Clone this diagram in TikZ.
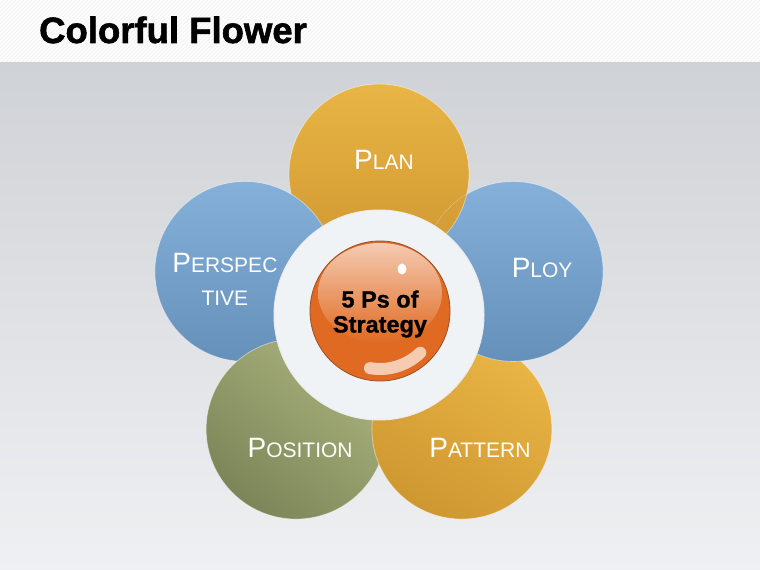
\documentclass[tikz,border=0pt]{standalone}
\usepackage{fontspec}
\setmainfont{Liberation Sans}
\newfontface\heavyface{Liberation Sans Bold}[FakeBold=1.6]
\newfontface\ballface{Liberation Sans Bold}[FakeBold=1]
\usetikzlibrary{calc}

\definecolor{goldTop}{HTML}{E9B545}
\definecolor{goldBot}{HTML}{CF9731}
\definecolor{blueTop}{HTML}{85B0DA}
\definecolor{blueBot}{HTML}{6590BA}
\definecolor{oliveTop}{HTML}{AAB37D}
\definecolor{oliveBot}{HTML}{7B8558}
\definecolor{ballOrange}{HTML}{E06A22}
\definecolor{ballLight}{HTML}{F5CBB2}
\definecolor{ringWhite}{HTML}{F0F3F6}
\definecolor{bgTop}{HTML}{CFD2D6}
\definecolor{bgBot}{HTML}{EFF0F2}

% small caps the way the slide sets them
\newcommand{\capword}[2]{{\fontsize{28}{30}\selectfont #1}{\fontsize{21}{24}\selectfont #2}}

\tikzset{
  petal/.style={circle, minimum size=180pt, inner sep=0pt,
    draw=white, draw opacity=0.45, line width=0.8pt},
  goldpetal/.style={petal, top color=goldTop, bottom color=goldBot},
  bluepetal/.style={petal, top color=blueTop, bottom color=blueBot},
  olivepetal/.style={petal, top color=oliveTop, bottom color=oliveBot, shading angle=-40},
  lbl/.style={text=white, inner sep=0pt, align=center},
}

\begin{document}
\begin{tikzpicture}[x=1pt, y=1pt]
  \useasboundingbox (0,0) rectangle (760,570);
  % Background
  \shade[top color=bgTop, bottom color=bgBot] (0,0) rectangle (760,508);
  \fill[white] (0,508) rectangle (760,570);
  \begin{scope}
    \clip (0,508) rectangle (760,570);
    \foreach \i in {0,4,...,840} {
      \draw[gray!9, line width=1.2pt] (\i-70,508) -- (\i,578);
    }
  \end{scope}
  % Title
  \node[anchor=base west, inner sep=0pt, font=\fontsize{36.5}{40}\heavyface]
    (title) at (39,527) {Colorful Flower};
  % Petals
  \coordinate (C) at (379,255);
  \node[goldpetal] (plan) at ($(C)+(90:141)$) {};
  \node[bluepetal] (perspective) at ($(C)+(162:141)$) {};
  \node[olivepetal] (position) at ($(C)+(234:141)$) {};
  \node[goldpetal, shading angle=-30] (pattern) at ($(C)+(306:141)$) {};
  \node[bluepetal] (ploy) at ($(C)+(18:141)$) {};
  % Plan lies over Ploy
  \begin{scope}
    \clip (ploy.center) circle (90);
    \path[goldpetal] (plan.center) circle (90);
  \end{scope}
  % Hub ring and ball
  \node[circle, minimum size=210pt, inner sep=0pt, fill=ringWhite,
    draw=gray!15, line width=1pt] (hub) at (C) {};
  \node[circle, minimum size=140pt, inner sep=0pt, fill=ballOrange,
    draw={rgb,255:red,150;green,80;blue,40}, line width=0.8pt] (ball) at (380,259) {};
  \shade[top color=ballLight, bottom color=ballOrange]
    ($(ball)+(0,18)$) ellipse [x radius=62, y radius=50];
  \fill[white] ($(ball)+(22,42)$) ellipse [x radius=4.5, y radius=5.5];
  \draw[ballLight, line width=12pt, line cap=round]
    ($(ball)+(-100:58)$) arc[start angle=-100, end angle=-46, radius=58];
  \node[font=\fontsize{23.5}{25}\ballface, align=center, inner sep=0pt]
    (strategy) at (380,256) {5 Ps of\\Strategy};
  % Petal labels
  \node[lbl] (planT) at ($(plan)+(5,14)$) {\capword{P}{LAN}};
  \node[lbl] (ployT) at ($(ploy)+(29,3)$) {\capword{P}{LOY}};
  \node[lbl] (patternT) at ($(pattern)+(18,-19)$) {\capword{P}{ATTERN}};
  \node[lbl] (positionT) at ($(position)+(4,-19)$) {\capword{P}{OSITION}};
  \node[lbl, font=\fontsize{21}{33}\selectfont] (perspectiveT) at ($(perspective)+(-20,-8)$)
    {\capword{P}{ERSPEC}\\TIVE};
\end{tikzpicture}
\end{document}
